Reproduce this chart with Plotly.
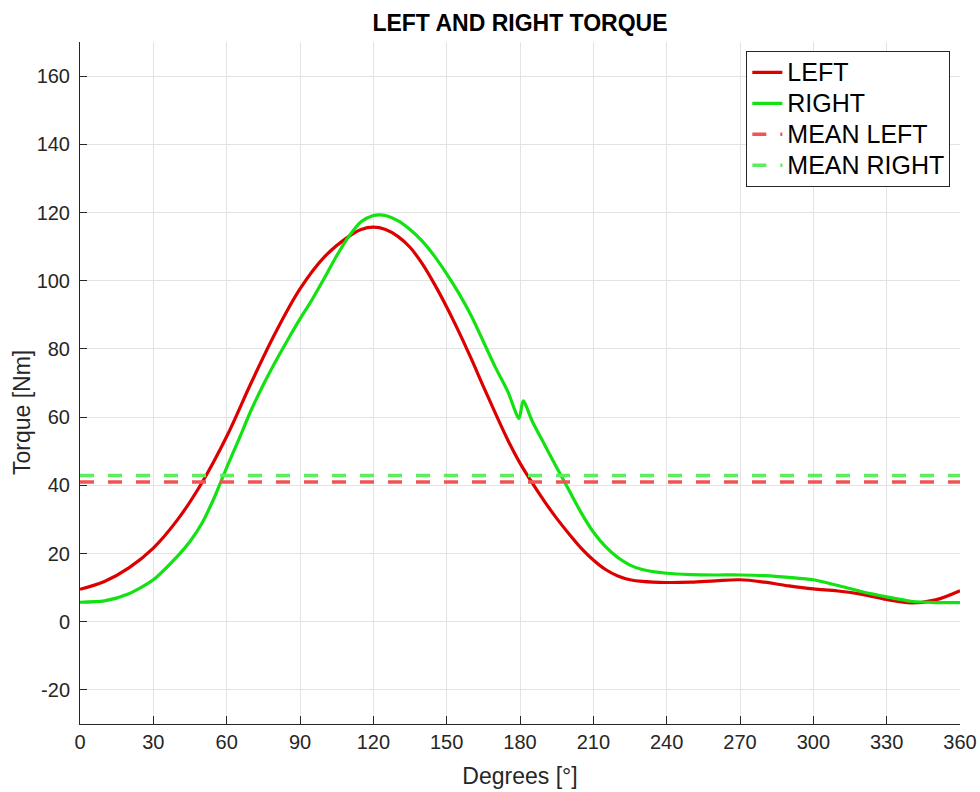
import plotly.graph_objects as go

# Crank angle (degrees) and torque readings (Nm)
deg_left = [0, 10, 20, 30, 40, 50, 60, 70, 80, 90, 100, 110, 115, 120, 125, 130, 135,
            140, 145, 150, 155, 160, 165, 170, 175, 180, 185, 190, 195, 200, 205, 210,
            215, 220, 225, 230, 240, 250, 260, 270, 280, 290, 300, 310, 320, 330, 340,
            350, 360]
torque_left = [9.5, 11.8, 15.8, 21.6, 30.0, 40.9, 54.3, 70.0, 84.8, 97.6, 107.0, 113.0,
               115.0, 115.7, 115.0, 113.0, 109.8, 105.0, 99.0, 92.3, 85.0, 77.2, 69.0,
               61.0, 53.3, 46.5, 40.7, 35.3, 30.3, 25.8, 21.6, 18.1, 15.3, 13.4, 12.3,
               11.8, 11.5, 11.6, 12.0, 12.3, 11.6, 10.5, 9.6, 9.0, 8.0, 6.5, 5.5, 6.4, 9.1]

deg_right = [0, 10, 20, 30, 40, 45, 50, 55, 60, 65, 70, 75, 80, 85, 90, 95, 100, 105,
             110, 115, 120, 122.5, 125, 130, 135, 140, 145, 150, 155, 160, 170, 175,
             179.6, 181.3, 185, 190, 195, 200, 205, 210, 215, 220, 225, 230, 240, 250,
             260, 270, 280, 290, 300, 310, 320, 330, 340, 350, 360]
torque_right = [5.7, 6.1, 8.2, 12.3, 19.3, 23.5, 29.0, 36.5, 45.2, 53.5, 62.0, 69.5,
                76.3, 82.7, 88.8, 94.5, 100.8, 107.3, 113.0, 117.3, 119.1, 119.3, 119.1,
                117.6, 115.0, 111.6, 107.2, 102.0, 96.3, 89.8, 74.5, 67.5, 59.6, 64.8,
                58.8, 52.0, 45.2, 38.6, 32.0, 26.3, 22.0, 18.8, 16.6, 15.3, 14.2, 13.8,
                13.7, 13.7, 13.5, 13.0, 12.3, 10.6, 8.8, 7.3, 6.0, 5.6, 5.6]

mean_left = 41.0
mean_right = 42.9

x_ticks = list(range(0, 361, 30))
y_ticks = list(range(-20, 161, 20))

FONT = "Liberation Sans, Arial, sans-serif"
AXIS_COLOR = "#262626"
GRID_COLOR = "#e3e3e3"


def legend_label(text):
    # larger glyphs than the legend's row height so the rows stay compact
    return f'<span style="font-size:25px">{text}</span>'


fig = go.Figure()
fig.add_trace(go.Scatter(x=deg_left, y=torque_left, mode="lines", name=legend_label("LEFT"),
                         line=dict(color="#dc0000", width=3.2, shape="spline", smoothing=1.0)))
fig.add_trace(go.Scatter(x=deg_right, y=torque_right, mode="lines", name=legend_label("RIGHT"),
                         line=dict(color="#12e212", width=3.2, shape="spline", smoothing=0.7)))
fig.add_trace(go.Scatter(x=[0, 360], y=[mean_left, mean_left], mode="lines",
                         name=legend_label("MEAN LEFT"),
                         line=dict(color="#f05555", width=3.5, dash="14px,14px")))
fig.add_trace(go.Scatter(x=[0, 360], y=[mean_right, mean_right], mode="lines",
                         name=legend_label("MEAN RIGHT"),
                         line=dict(color="#5ced5c", width=3.5, dash="14px,14px")))

fig.update_layout(
    width=980, height=792,
    margin=dict(l=80, r=20, t=42, b=68),
    paper_bgcolor="white", plot_bgcolor="white",
    font=dict(family=FONT, color=AXIS_COLOR),
    title=dict(text="<b>LEFT AND RIGHT TORQUE</b>", x=520 / 980, xanchor="center",
               y=1 - 23 / 792, yanchor="middle", xref="container", yref="container",
               font=dict(family=FONT, size=23, color="black")),
    legend=dict(x=0.989, xanchor="right", y=0.987, yanchor="top",
                bgcolor="white", bordercolor=AXIS_COLOR, borderwidth=1,
                font=dict(family=FONT, size=21.5, color="black"),
                itemwidth=30, tracegroupgap=0),
    showlegend=True,
    annotations=[dict(text="Torque [Nm]", textangle=-90, showarrow=False,
                      xref="paper", yref="paper", x=-(80 - 22) / 880, y=(724 - 413) / 682,
                      xanchor="center", yanchor="middle",
                      font=dict(family=FONT, size=23, color=AXIS_COLOR))],
)

fig.update_xaxes(
    range=[0, 360], tickvals=x_ticks, ticktext=[str(v) for v in x_ticks],
    showgrid=True, gridcolor=GRID_COLOR, gridwidth=1, zeroline=False,
    showline=True, linecolor=AXIS_COLOR, linewidth=1, mirror=False,
    ticks="inside", ticklen=8, tickcolor=AXIS_COLOR,
    tickfont=dict(family=FONT, size=20, color=AXIS_COLOR),
    title=dict(text="Degrees [°]", font=dict(family=FONT, size=23, color=AXIS_COLOR), standoff=15),
    automargin=False,
)
fig.update_yaxes(
    range=[-30, 170], tickvals=y_ticks, ticktext=[str(v) for v in y_ticks],
    showgrid=True, gridcolor=GRID_COLOR, gridwidth=1, zeroline=False,
    showline=True, linecolor=AXIS_COLOR, linewidth=1, mirror=False,
    ticks="inside", ticklen=7, tickcolor=AXIS_COLOR, ticklabelstandoff=5,
    tickfont=dict(family=FONT, size=20, color=AXIS_COLOR),
    automargin=False,
)

fig.write_html("out.html")
